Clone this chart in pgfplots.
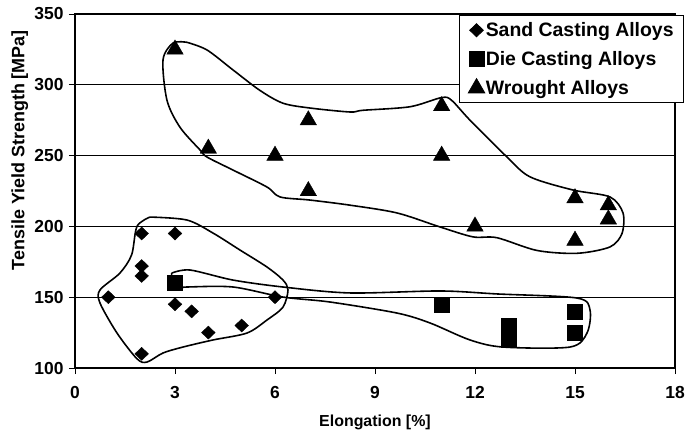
\documentclass[border=0pt]{standalone}
\usepackage{pgfplots}
\pgfplotsset{compat=1.18}
\usepackage{fontspec}
\setmainfont{Liberation Sans}
\begin{document}
\begin{tikzpicture}
\begin{axis}[
  scale only axis,
  width=600bp, height=354bp,
  xmin=0, xmax=18, ymin=100, ymax=350,
  xtick={0,3,...,18}, ytick={100,150,...,350},
  ymajorgrids, grid style={black, line width=0.8pt},
  axis line style={line width=1.6pt},
  tick style={black, line width=1pt},
  tick align=outside, major tick length=6bp,
  xtick pos=bottom, ytick pos=left,
  /pgf/number format/assume math mode=true,
  tick label style={font=\fontsize{17.5}{20}\selectfont\bfseries},
  xticklabel style={yshift=-9bp},
  yticklabel style={xshift=-2bp},
  xlabel={Elongation [\%]}, ylabel={Tensile Yield Strength [MPa]},
  xlabel style={font=\fontsize{16}{19}\selectfont\bfseries,
    at={(axis description cs:0.5,-0.155)}, anchor=center},
  ylabel style={font=\fontsize{18}{21}\selectfont\bfseries,
    at={(axis description cs:-0.092,0.615)}, anchor=center},
  legend style={at={(1.015,0.997)}, anchor=north east, draw=black, line width=0.8pt,
    font=\fontsize{19.5}{22}\selectfont\bfseries, inner xsep=9bp, inner ysep=6bp,
    row sep=11bp, nodes={inner sep=1bp}},
  legend cell align=left,
  legend image code/.code={\draw[#1] plot coordinates {(0.2cm,0cm)};},
]
% envelopes
\addplot[black, line width=1.6pt, smooth, tension=0.5, forget plot] coordinates {
 (3.36,330) (3.96,324.6) (4.74,310.5) (5.55,296) (6.24,287) (7.05,283.6) (8.25,280.8)
 (8.64,282) (10.05,284.5) (11.0,291) (11.3,289) (11.85,275) (12.96,249) (13.65,235)
 (14.94,225.7) (16.05,220.8) (16.44,209.5) (16.41,195) (16.05,185.5) (15.06,181)
 (13.86,183) (12.66,192) (11.94,192.6) (10.95,199.6) (9.66,209.5) (8.25,215) (7.05,218.6)
 (6.15,220.8) (5.76,227.8) (4.74,239.8) (3.96,249) (3.75,254) (3.15,270) (2.76,289)
 (2.64,317.5) (2.94,329.5) (3.36,330)};
\addplot[black, line width=1.6pt, smooth, tension=0.5, forget plot] coordinates {
 (2.25,206.6) (3.36,204.5) (4.14,195.3) (4.95,183.3) (5.76,171.3) (6.24,162.1) (6.39,155.1)
 (6.24,143) (5.76,133.9) (5.16,124.7) (4.14,119.8) (3.24,114.8) (2.64,110.6) (2.16,104.2)
 (1.86,106.5) (1.26,124.7) (0.75,145.9) (0.75,155.1) (1.35,167.1) (1.7,180) (1.86,200)
 (2.25,206.6)};
\addplot[black, line width=1.6pt, smooth, tension=0.5, forget plot] coordinates {
 (2.9,167) (3.45,169.2) (4.74,162.1) (6.24,157.2) (8.25,153) (10.95,154.4) (12.66,152.3)
 (15.06,149.4) (15.45,141) (15.36,124.7) (14.85,114.8) (12.84,114.8) (11.85,119.8)
 (10.65,131.8) (9.66,138.8) (7.65,146.6) (6.24,150.1) (4.74,157.2) (3.36,157.2)
 (2.94,156.5) (2.9,167)};
% data
\addplot[only marks, mark=diamond*, mark size=6.5bp, mark options={xscale=1.4, fill=black, draw=black}] coordinates {
 (1,150) (2,195) (2,172) (2,165) (2,110) (3,195) (3,145) (3.5,140) (4,125) (5,130) (6,150)};
\addplot[only marks, mark=square*, mark size=7.5bp, mark options={fill=black, draw=black}] coordinates {
 (3,160) (11,145) (13,130) (13,125) (13,120) (15,140) (15,125)};
\addplot[only marks, mark=triangle*, mark size=9.5bp, mark options={fill=black, draw=black}] coordinates {
 (3,325) (4,255) (6,250) (7,275) (7,225) (11,285) (11,250) (12,200) (15,220) (15,190) (16,215) (16,205)};
\legend{Sand Casting Alloys, Die Casting Alloys, Wrought Alloys}
\end{axis}
\pgfresetboundingbox
\path (-75bp,-64bp) rectangle (610bp,368bp);
\end{tikzpicture}
\end{document}
